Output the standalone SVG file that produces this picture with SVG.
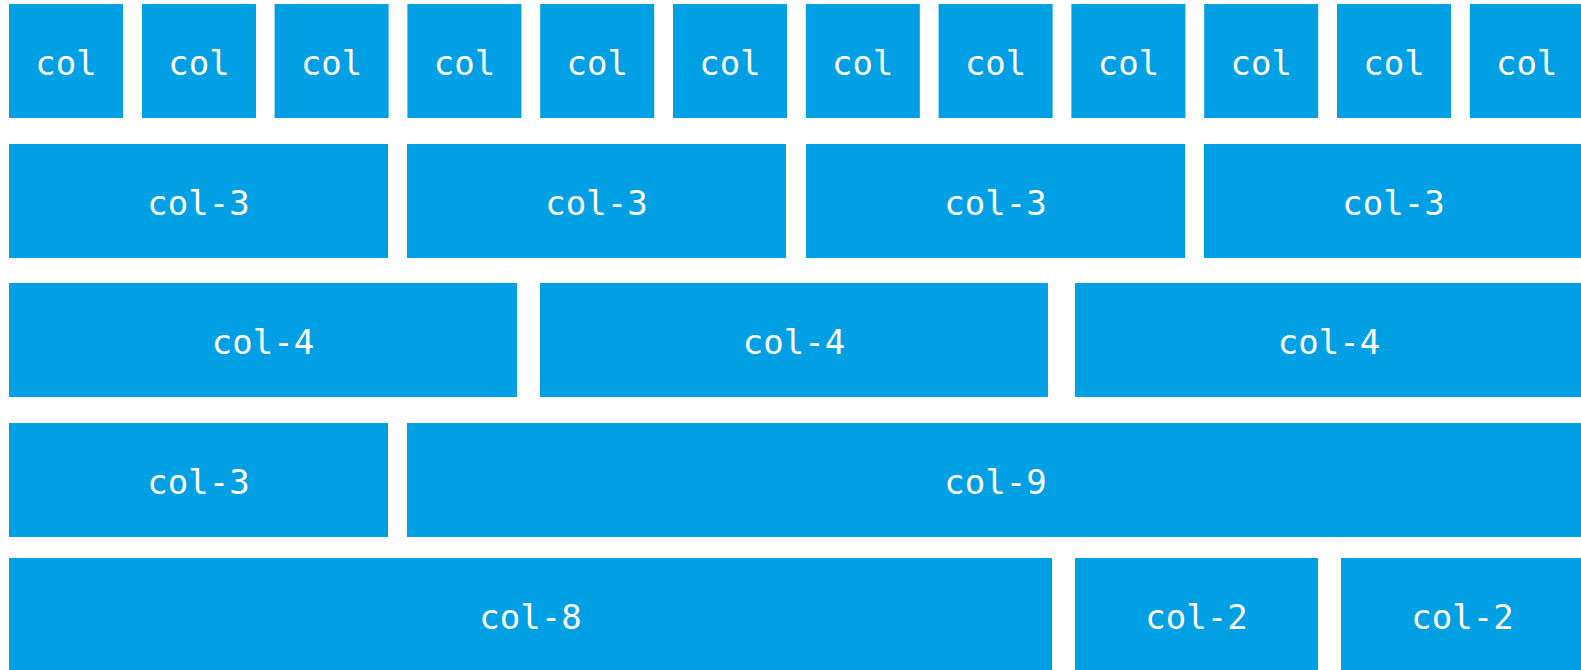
<svg xmlns="http://www.w3.org/2000/svg" width="1581" height="670" viewBox="0 0 1581 670">
<style>
rect{fill:#019fe3}
text{fill:#fff;font-family:"DejaVu Sans Mono",monospace;font-size:34px;text-anchor:middle}
</style>
<rect x="0" y="0" width="1581" height="670" style="fill:#fff"/>
<g id="row1">
<g id="r1c1"><rect x="9" y="4" width="114" height="114"/><text x="66" y="75">col</text></g>
<g id="r1c2"><rect x="142" y="4" width="114" height="114"/><text x="199" y="75">col</text></g>
<g id="r1c3"><rect x="274.6" y="4" width="114" height="114"/><text x="331.6" y="75">col</text></g>
<g id="r1c4"><rect x="407.4" y="4" width="114" height="114"/><text x="464.4" y="75">col</text></g>
<g id="r1c5"><rect x="540.2" y="4" width="114" height="114"/><text x="597.2" y="75">col</text></g>
<g id="r1c6"><rect x="673" y="4" width="114" height="114"/><text x="730" y="75">col</text></g>
<g id="r1c7"><rect x="805.8" y="4" width="114" height="114"/><text x="862.8" y="75">col</text></g>
<g id="r1c8"><rect x="938.6" y="4" width="114" height="114"/><text x="995.6" y="75">col</text></g>
<g id="r1c9"><rect x="1071.4" y="4" width="114" height="114"/><text x="1128.4" y="75">col</text></g>
<g id="r1c10"><rect x="1204.2" y="4" width="114" height="114"/><text x="1261.2" y="75">col</text></g>
<g id="r1c11"><rect x="1337" y="4" width="114" height="114"/><text x="1394" y="75">col</text></g>
<g id="r1c12"><rect x="1469.8" y="4" width="114" height="114"/><text x="1526.8" y="75">col</text></g>
</g>
<g id="row2">
<g id="r2c1"><rect x="9" y="144" width="379" height="114"/><text x="198.5" y="215">col-3</text></g>
<g id="r2c2"><rect x="407" y="144" width="379" height="114"/><text x="596.5" y="215">col-3</text></g>
<g id="r2c3"><rect x="806" y="144" width="379" height="114"/><text x="995.5" y="215">col-3</text></g>
<g id="r2c4"><rect x="1204" y="144" width="379" height="114"/><text x="1393.5" y="215">col-3</text></g>
</g>
<g id="row3">
<g id="r3c1"><rect x="9" y="283" width="508" height="114"/><text x="263" y="354">col-4</text></g>
<g id="r3c2"><rect x="540" y="283" width="508" height="114"/><text x="794" y="354">col-4</text></g>
<g id="r3c3"><rect x="1075" y="283" width="508" height="114"/><text x="1329" y="354">col-4</text></g>
</g>
<g id="row4">
<g id="r4c1"><rect x="9" y="423" width="379" height="114"/><text x="198.5" y="494">col-3</text></g>
<g id="r4c2"><rect x="407" y="423" width="1178" height="114"/><text x="995.5" y="494">col-9</text></g>
</g>
<g id="row5">
<g id="r5c1"><rect x="9" y="558" width="1043" height="114"/><text x="530.5" y="629">col-8</text></g>
<g id="r5c2"><rect x="1075" y="558" width="243" height="114"/><text x="1196.5" y="629">col-2</text></g>
<g id="r5c3"><rect x="1341" y="558" width="243" height="114"/><text x="1462.5" y="629">col-2</text></g>
</g>
<g id="connectors"/>
</svg>
